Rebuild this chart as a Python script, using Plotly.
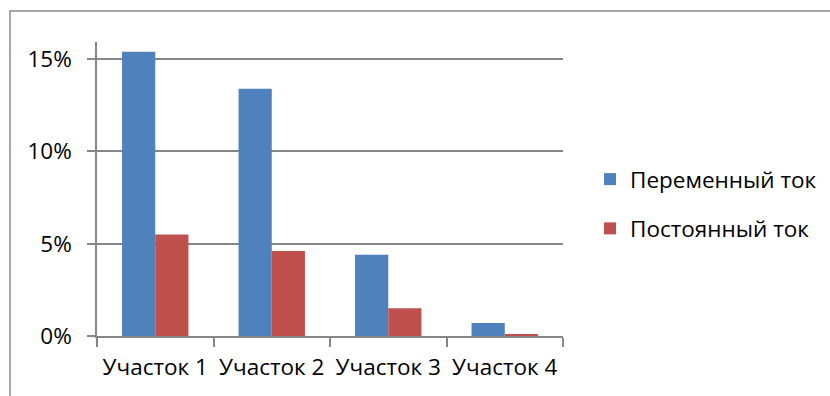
import plotly.graph_objects as go

# Участки и доли потерь по роду тока
sections = ["Участок 1", "Участок 2", "Участок 3", "Участок 4"]
ac_share = [0.154, 0.134, 0.044, 0.007]
dc_share = [0.055, 0.046, 0.015, 0.001]
y_ticks = [0, 0.05, 0.10, 0.15]
y_tick_text = ["0%", "5%", "10%", "15%"]

W, H = 830, 396
ML, MR, MT, MB = 97, 267, 42, 60
PW, PH = W - ML - MR, H - MT - MB

FONT = dict(family="Open Sans, Liberation Sans, sans-serif", size=22.5, color="#000000")
GRID = "#878787"

fig = go.Figure()
fig.add_trace(go.Bar(x=sections, y=ac_share, name="Переменный ток",
                     marker=dict(color="#4F81BD", line=dict(width=0)),
                     legendgroup="ac"))
fig.add_trace(go.Bar(x=sections, y=dc_share, name="Постоянный ток",
                     marker=dict(color="#C0504D", line=dict(width=0)),
                     legendgroup="dc"))


def px_x(p):
    return (p - ML) / PW


def px_y(p):
    return (H - MB - p) / PH


fig.update_layout(
    width=W, height=H,
    margin=dict(l=ML, r=MR, t=MT, b=MB, pad=0, autoexpand=False),
    paper_bgcolor="white", plot_bgcolor="white",
    font=FONT,
    barmode="group", bargap=0.43, bargroupgap=0,
    showlegend=True,
    legend=dict(x=px_x(590), y=px_y(158), xanchor="left", yanchor="top",
                font=FONT, tracegroupgap=17, traceorder="grouped",
                bgcolor="rgba(0,0,0,0)", itemclick=False),
    shapes=[dict(type="rect", xref="paper", yref="paper",
                 x0=px_x(10), x1=px_x(835), y0=px_y(11), y1=px_y(410),
                 line=dict(color="#8a8a8a", width=1.5), fillcolor="rgba(0,0,0,0)",
                 layer="below")],
)

fig.update_xaxes(
    type="category", showgrid=False, showline=True, linecolor=GRID, linewidth=1.5,
    ticks="outside", tickson="boundaries", ticklen=9, tickwidth=1.5, tickcolor=GRID,
    tickfont=FONT, ticklabelstandoff=10,
)
fig.update_yaxes(
    range=[0, 0.1593], tickvals=y_ticks, ticktext=y_tick_text,
    showgrid=True, gridcolor=GRID, gridwidth=1.5,
    showline=True, linecolor=GRID, linewidth=1.5,
    ticks="outside", ticklen=8, tickwidth=1.5, tickcolor=GRID,
    tickfont=FONT, ticklabelstandoff=11, zeroline=False,
)

fig.write_html("out.html")
